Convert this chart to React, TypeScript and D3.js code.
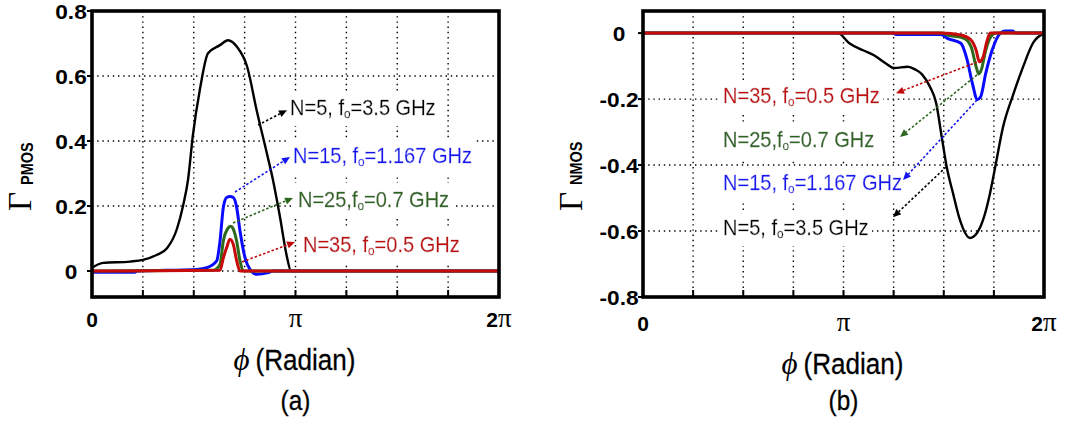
import React from 'react';
import * as d3 from 'd3';

// ---------- data ----------
const X_GRID_PI = [0, 0.25, 0.5, 0.75, 1, 1.25, 1.5, 1.75, 2];
const X_TICK_PI = [0, 1, 2];

const PMOS_Y_TICKS = [0, 0.2, 0.4, 0.6, 0.8];
const PMOS_Y_LABELS = ['0', '0.2', '0.4', '0.6', '0.8'];
const NMOS_Y_TICKS = [0, -0.2, -0.4, -0.6, -0.8];
const NMOS_Y_LABELS = ['0', '-0.2', '-0.4', '-0.6', '-0.8'];

// PMOS (a)
const PMOS_N5_PHI = [0, 0.17, 0.587, 0.787, 1.003, 1.158, 1.312, 1.405, 1.482, 1.559, 1.667, 1.791, 1.976, 2.1, 2.238, 2.393, 2.547, 2.702, 2.794, 2.902, 3.01, 3.072, 6.283];
const PMOS_N5 = [0.01, 0.025, 0.029, 0.034, 0.05, 0.07, 0.13, 0.2, 0.28, 0.42, 0.56, 0.67, 0.695, 0.71, 0.69, 0.63, 0.49, 0.36, 0.28, 0.166, 0.043, 0, 0];
const PMOS_N15_PHI = [0, 0.65, 0.7, 1.616, 1.771, 1.925, 1.976, 2.027, 2.079, 2.13, 2.181, 2.234, 2.285, 2.362, 2.439, 2.543, 2.722, 2.8, 6.283];
const PMOS_N15 = [-0.004, -0.004, 0, 0.005, 0.01, 0.031, 0.092, 0.195, 0.226, 0.229, 0.226, 0.195, 0.123, 0.041, 0.005, -0.01, -0.005, 0, 0];
const PMOS_N25_PHI = [0, 1.87, 1.976, 2.027, 2.105, 2.142, 2.179, 2.233, 2.285, 2.336, 6.283];
const PMOS_N25 = [0, 0.002, 0.02, 0.092, 0.133, 0.138, 0.13, 0.092, 0.031, 0, 0];
const PMOS_N35_PHI = [0, 1.976, 2.027, 2.079, 2.13, 2.181, 2.234, 2.285, 6.283];
const PMOS_N35 = [0, 0.002, 0.04, 0.072, 0.098, 0.082, 0.031, 0, 0];

// NMOS (b)
const NMOS_N5_PHI = [0, 3.055, 3.227, 3.447, 3.619, 3.807, 3.933, 4.152, 4.262, 4.372, 4.497, 4.591, 4.685, 4.763, 4.857, 4.967, 5.124, 5.233, 5.327, 5.437, 5.515, 5.641, 5.798, 5.954, 6.111, 6.283];
const NMOS_N5 = [0, 0, -0.03, -0.052, -0.067, -0.092, -0.106, -0.102, -0.11, -0.125, -0.163, -0.21, -0.32, -0.41, -0.485, -0.567, -0.621, -0.606, -0.567, -0.486, -0.41, -0.285, -0.188, -0.103, -0.03, 0];
const NMOS_N15_PHI = [0, 3.9, 3.96, 4.67, 4.77, 4.98, 5.08, 5.16, 5.24, 5.29, 5.37, 5.47, 5.6, 5.68, 5.79, 5.84, 6.283];
const NMOS_N15 = [0, 0, -0.004, -0.004, -0.016, -0.031, -0.082, -0.152, -0.201, -0.193, -0.122, -0.052, 0, 0.006, 0.006, 0, 0];
const NMOS_N25_PHI = [0, 4.67, 4.77, 5.03, 5.14, 5.22, 5.26, 5.3, 5.37, 5.45, 5.53, 6.283];
const NMOS_N25 = [0, 0, -0.006, -0.016, -0.041, -0.102, -0.124, -0.112, -0.052, -0.011, 0, 0];
const NMOS_N35_PHI = [0, 4.67, 4.98, 5.14, 5.22, 5.27, 5.33, 5.38, 5.44, 6.283];
const NMOS_N35 = [0, 0, -0.006, -0.021, -0.052, -0.087, -0.072, -0.031, 0, 0];

// annotation texts: [before subscript, subscript, after]
const LABEL_N5 = ['N=5, f', 'o', '=3.5 GHz'];
const LABEL_N15 = ['N=15, f', 'o', '=1.167 GHz'];
const LABEL_N25 = ['N=25,f', 'o', '=0.7 GHz'];
const LABEL_N35 = ['N=35, f', 'o', '=0.5 GHz'];

// ---------- styles ----------
const SANS = "'Liberation Sans', Arial, Helvetica, sans-serif";
const SERIF = "'Liberation Serif', 'Times New Roman', 'DejaVu Serif', serif";
const C_BLACK = '#000000';
const C_BLUE = '#0a0aff';
const C_GREEN = '#2e6a1e';
const C_RED = '#c80a0a';
const T_BLUE = '#1515f0';
const T_GREEN = '#2d661f';
const T_RED = '#c00a0a';

type Series = { phi: number[]; val: number[]; color: string; width: number };
type Note = { parts: string[]; color: string; label: [number, number]; from: [number, number]; to: [number, number] };
type PanelCfg = {
  left: number; right: number; top: number; bottom: number;
  yDomain: [number, number]; yTicks: number[]; yLabels: string[];
  yLabelX: number; sub: string; gammaX: number; subX: number;
  xTickY: number; titleY: number; captionY: number; caption: string;
  series: Series[]; notes: Note[];
};

const panels: PanelCfg[] = [
  {
    left: 92, right: 499, top: 11, bottom: 297,
    yDomain: [-0.08, 0.8], yTicks: PMOS_Y_TICKS, yLabels: PMOS_Y_LABELS,
    yLabelX: 71, sub: 'PMOS', gammaX: 31, subX: 33,
    xTickY: 327, titleY: 370, captionY: 410, caption: '(a)',
    series: [
      { phi: PMOS_N5_PHI, val: PMOS_N5, color: C_BLACK, width: 2.4 },
      { phi: PMOS_N15_PHI, val: PMOS_N15, color: C_BLUE, width: 3 },
      { phi: PMOS_N25_PHI, val: PMOS_N25, color: C_GREEN, width: 3 },
      { phi: PMOS_N35_PHI, val: PMOS_N35, color: C_RED, width: 3 },
    ],
    notes: [
      { parts: LABEL_N5, color: C_BLACK, label: [3.057, 0.48], from: [2.563, 0.449], to: [3.01, 0.495] },
      { parts: LABEL_N15, color: T_BLUE, label: [3.103, 0.332], from: [2.208, 0.243], to: [3.057, 0.351] },
      { parts: LABEL_N25, color: T_GREEN, label: [3.18, 0.197], from: [2.177, 0.148], to: [3.103, 0.225] },
      { parts: LABEL_N35, color: T_RED, label: [3.257, 0.057], from: [2.316, 0.028], to: [3.134, 0.089] },
    ],
  },
  {
    left: 643, right: 1044, top: 11, bottom: 297,
    yDomain: [-0.8, 0.067], yTicks: NMOS_Y_TICKS, yLabels: NMOS_Y_LABELS,
    yLabelX: 619, sub: 'NMOS', gammaX: 582, subX: 582,
    xTickY: 331, titleY: 374, captionY: 410, caption: '(b)',
    series: [
      { phi: NMOS_N5_PHI, val: NMOS_N5, color: C_BLACK, width: 2.4 },
      { phi: NMOS_N15_PHI, val: NMOS_N15, color: C_BLUE, width: 3 },
      { phi: NMOS_N25_PHI, val: NMOS_N25, color: C_GREEN, width: 3 },
      { phi: NMOS_N35_PHI, val: NMOS_N35, color: C_RED, width: 3 },
    ],
    notes: [
      { parts: LABEL_N35, color: T_RED, label: [1.254, -0.212], from: [5.233, -0.088], to: [3.964, -0.182] },
      { parts: LABEL_N25, color: T_GREEN, label: [1.254, -0.345], from: [5.233, -0.127], to: [4.027, -0.315] },
      { parts: LABEL_N15, color: T_BLUE, label: [1.254, -0.476], from: [5.233, -0.203], to: [4.074, -0.445] },
      { parts: LABEL_N5, color: C_BLACK, label: [1.254, -0.612], from: [4.748, -0.406], to: [3.917, -0.558] },
    ],
  },
];

function Arrow({ x1, y1, x2, y2, color }: { x1: number; y1: number; x2: number; y2: number; color: string }) {
  const ang = Math.atan2(y2 - y1, x2 - x1);
  const L = 8, Wd = 3.6;
  const bx = x2 - L * Math.cos(ang), by = y2 - L * Math.sin(ang);
  const px = -Math.sin(ang) * Wd, py = Math.cos(ang) * Wd;
  return (
    <g>
      <line x1={x1} y1={y1} x2={bx} y2={by} stroke={color} strokeWidth={1.6} strokeDasharray="2.5 2" />
      <polygon points={`${x2},${y2} ${bx + px},${by + py} ${bx - px},${by - py}`} fill={color} />
    </g>
  );
}

function Panel({ cfg }: { cfg: PanelCfg }) {
  const x = d3.scaleLinear().domain([0, 2 * Math.PI]).range([cfg.left, cfg.right]);
  const y = d3.scaleLinear().domain(cfg.yDomain).range([cfg.bottom, cfg.top]);
  const line = d3.line<[number, number]>().x((d) => x(d[0])).y((d) => y(d[1])).curve(d3.curveMonotoneX);
  const cx = (cfg.left + cfg.right) / 2;
  const interiorX = X_GRID_PI.filter((v) => v > 0 && v < 2).map((v) => x(v * Math.PI));
  const interiorY = cfg.yTicks.filter((v) => y(v) > cfg.top + 2 && y(v) < cfg.bottom - 2).map((v) => y(v));
  return (
    <g>
      {/* grid */}
      {interiorX.map((gx, i) => (
        <line key={'gx' + i} x1={gx} x2={gx} y1={cfg.top} y2={cfg.bottom} stroke="#000" strokeWidth={1.4} strokeDasharray="1.4 3.8" />
      ))}
      {interiorY.map((gy, i) => (
        <line key={'gy' + i} x1={cfg.left} x2={cfg.right} y1={gy} y2={gy} stroke="#000" strokeWidth={1.4} strokeDasharray="1.4 3.8" />
      ))}
      {/* annotation text (white box behind, like MATLAB text background) */}
      {cfg.notes.map((n, i) => (
        <text key={'nt' + i} filter="url(#textbg)" transform={`translate(${x(n.label[0])},${y(n.label[1])}) scale(0.91,1)`} fontFamily={SANS} fontSize={22} fill={n.color} stroke={n.color} strokeWidth={0.35}>
          {n.parts[0]}
          <tspan fontSize={13} dy={3}>{n.parts[1]}</tspan>
          <tspan fontSize={22} dy={-3}>{n.parts[2]}</tspan>
        </text>
      ))}
      {/* curves */}
      {cfg.series.map((s, i) => (
        <path key={'s' + i} d={line(s.phi.map((p, j) => [p, s.val[j]] as [number, number])) || ''} fill="none" stroke={s.color} strokeWidth={s.width} strokeLinejoin="round" />
      ))}
      {/* arrows */}
      {cfg.notes.map((n, i) => (
        <Arrow key={'na' + i} x1={x(n.from[0])} y1={y(n.from[1])} x2={x(n.to[0])} y2={y(n.to[1])} color={n.color} />
      ))}
      {/* ticks */}
      {interiorX.map((gx, i) => (
        <line key={'tx' + i} x1={gx} x2={gx} y1={cfg.bottom} y2={cfg.bottom - 7} stroke="#000" strokeWidth={2} />
      ))}
      {cfg.yTicks.map((v, i) => (
        <line key={'ty' + i} x1={cfg.left - 5} x2={cfg.left} y1={y(v)} y2={y(v)} stroke="#000" strokeWidth={2} />
      ))}
      {/* frame */}
      <rect x={cfg.left} y={cfg.top} width={cfg.right - cfg.left} height={cfg.bottom - cfg.top} fill="none" stroke="#000" strokeWidth={3.6} />
      {/* y tick labels */}
      {cfg.yTicks.map((v, i) => (
        <text key={'yl' + i} transform={`translate(${cfg.yLabelX},${y(v) + 7.5}) scale(1.08,1)`} textAnchor="middle" fontFamily={SANS} fontWeight="bold" fontSize={21} fill="#000">
          {cfg.yLabels[i]}
        </text>
      ))}
      {/* x tick labels */}
      {X_TICK_PI.map((v, i) => {
        const px = x(v * Math.PI);
        if (v === 0)
          return (
            <text key={'xl' + i} x={px} y={cfg.xTickY} textAnchor="middle" fontFamily={SANS} fontWeight="bold" fontSize={21}>0</text>
          );
        return (
          <text key={'xl' + i} x={px} y={cfg.xTickY} textAnchor="middle">
            {v === 2 ? <tspan fontFamily={SANS} fontWeight="bold" fontSize={21}>2</tspan> : null}
            <tspan fontFamily={SERIF} fontSize={27}>π</tspan>
          </text>
        );
      })}
      {/* x title */}
      <text x={cx - 62} y={cfg.titleY} fontFamily={SERIF} fontStyle="italic" fontSize={31}>ϕ</text>
      <text transform={`translate(${cx - 40},${cfg.titleY}) scale(0.87,1)`} fontFamily={SANS} fontSize={30} stroke="#000" strokeWidth={0.3}>(Radian)</text>
      <text transform={`translate(${cx},${cfg.captionY}) scale(0.87,1)`} textAnchor="middle" fontFamily={SANS} fontSize={28} stroke="#000" strokeWidth={0.3}>{cfg.caption}</text>
      {/* y title */}
      <text transform={`translate(${cfg.gammaX},211) rotate(-90)`} fontFamily={SERIF} fontSize={33}>Γ</text>
      <text transform={`translate(${cfg.subX},185) rotate(-90) scale(0.88,1)`} fontFamily={SANS} fontWeight="bold" fontSize={16.5}>{cfg.sub}</text>
    </g>
  );
}

export default function App() {
  return (
    <svg width={1070} height={426} viewBox="0 0 1070 426" style={{ position: 'absolute', left: 0, top: 0, background: '#fff' }}>
      <defs>
        <filter id="textbg" x="-0.02" y="-0.12" width="1.04" height="1.3">
          <feFlood floodColor="#ffffff" />
          <feComposite in="SourceGraphic" operator="over" />
        </filter>
      </defs>
      <rect x={0} y={0} width={1070} height={426} fill="#fff" />
      {panels.map((p, i) => (
        <Panel key={i} cfg={p} />
      ))}
    </svg>
  );
}
